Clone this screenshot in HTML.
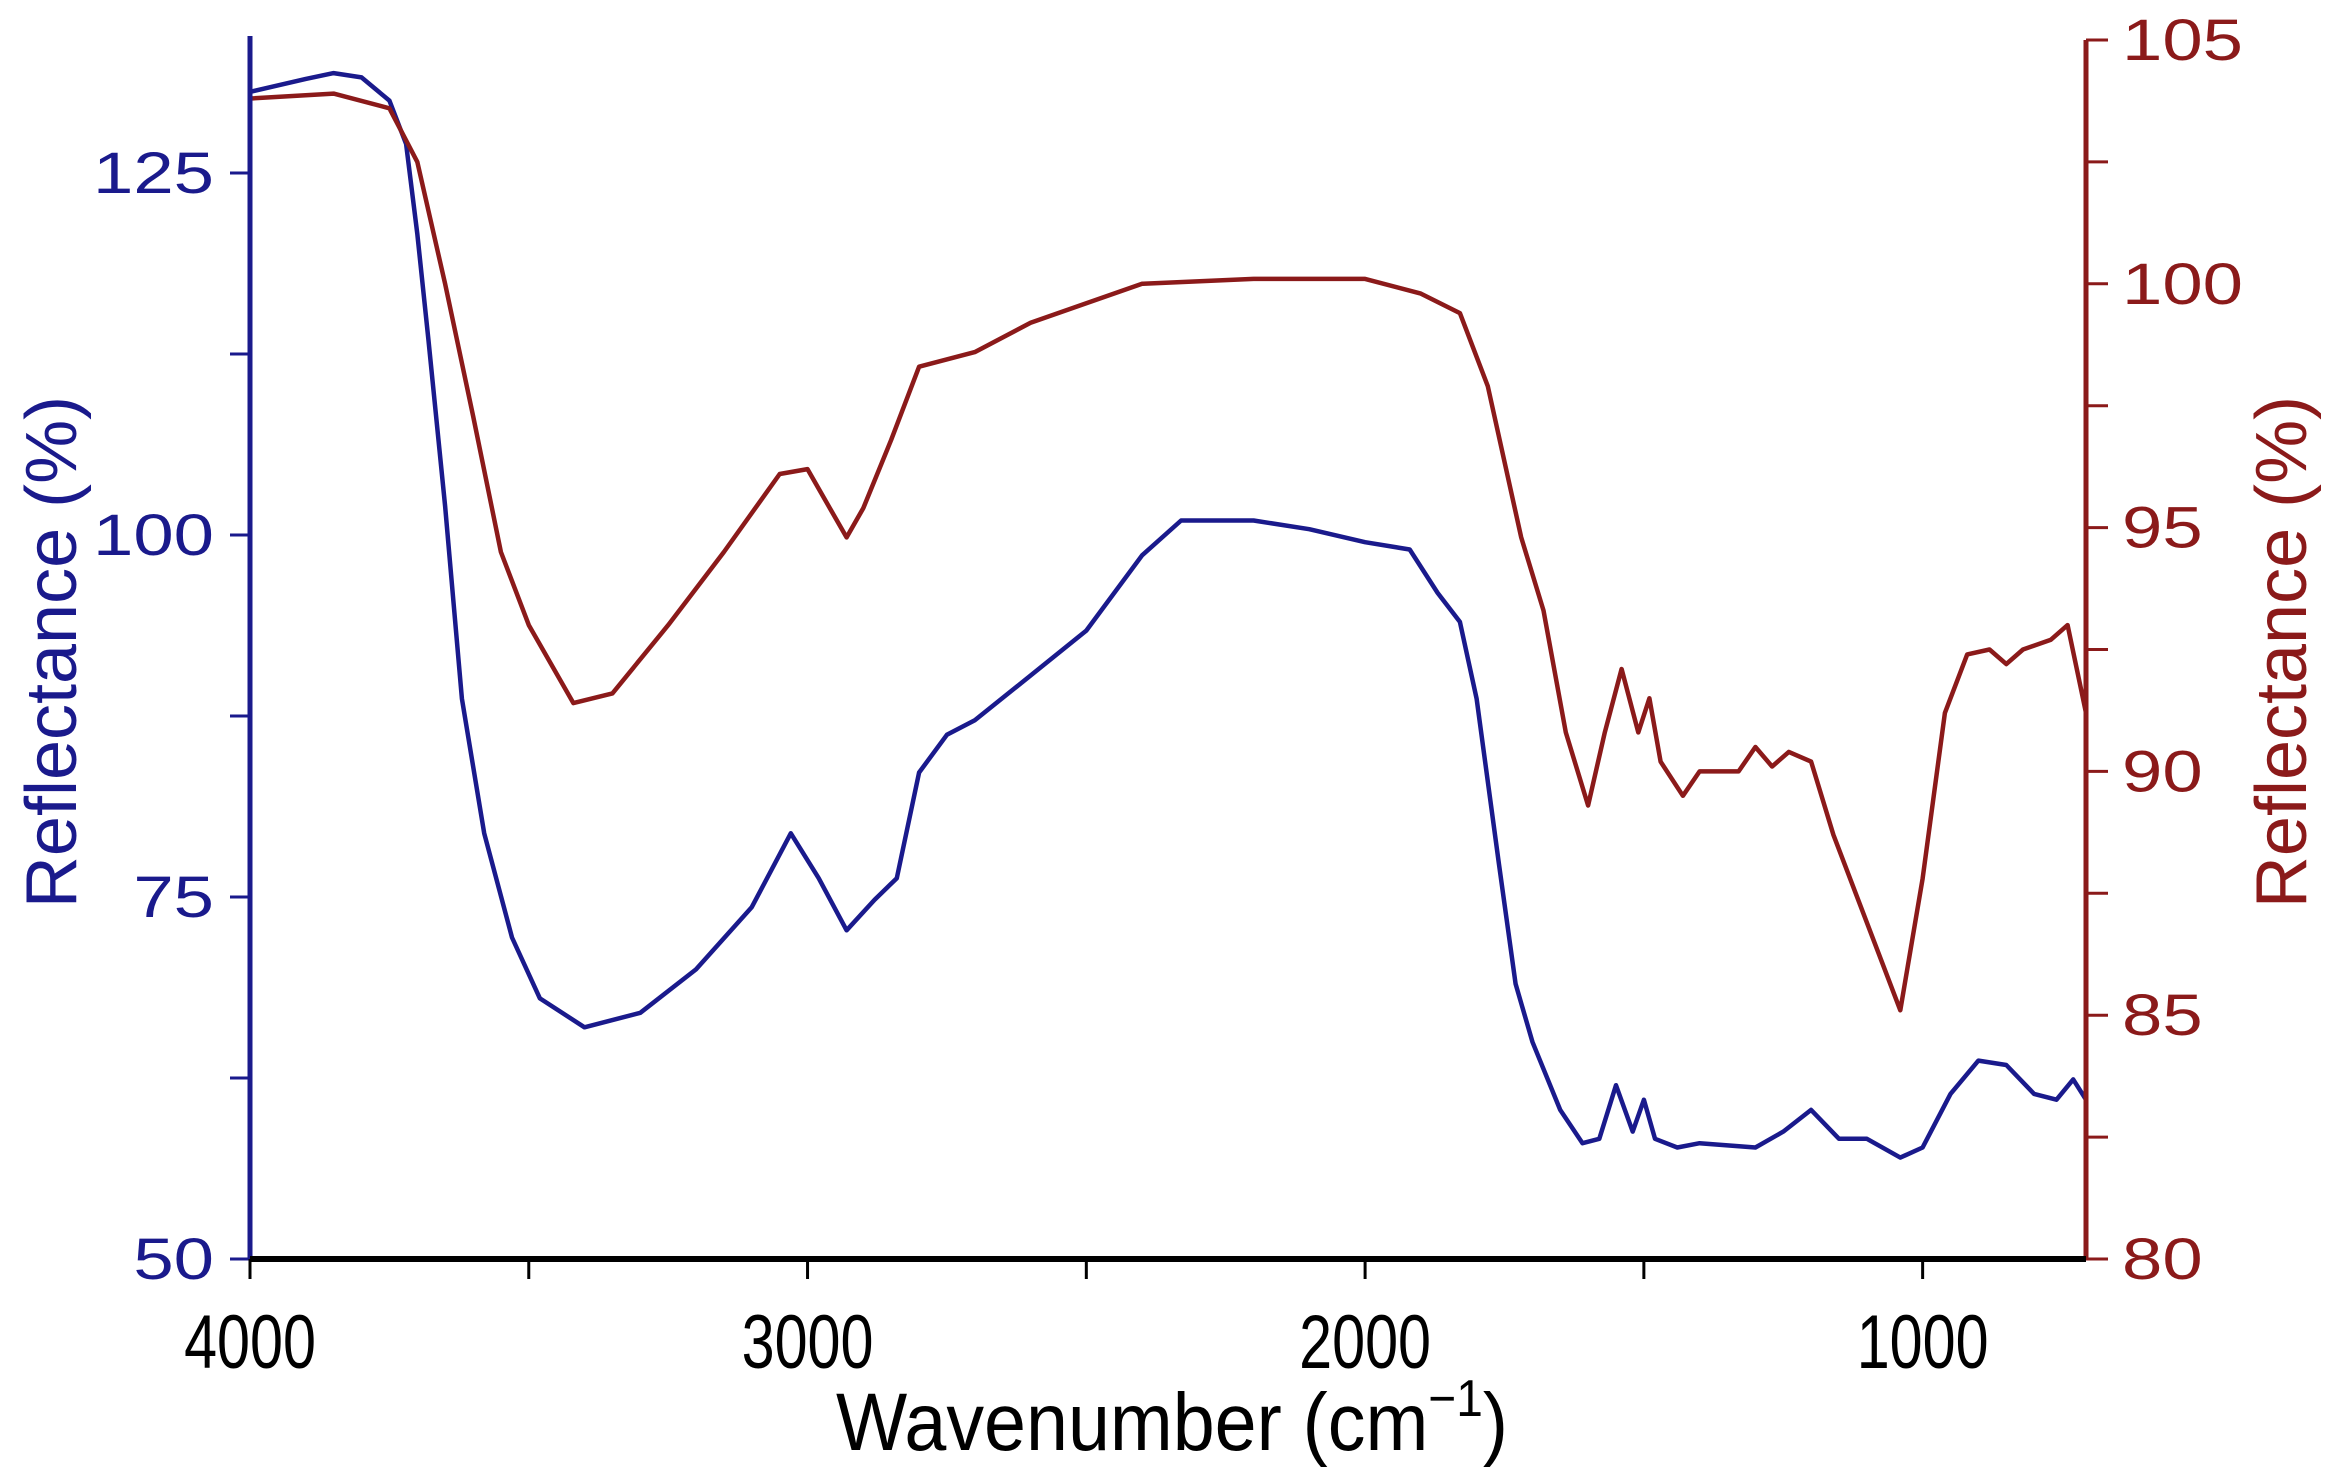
<!DOCTYPE html>
<html><head><meta charset="utf-8"><style>
html,body{margin:0;padding:0;background:#fff;}
svg{display:block;font-family:"Liberation Sans",Arial,sans-serif;}
</style></head><body>
<svg id="chart" width="2337" height="1484" viewBox="0 0 2337 1484" xmlns="http://www.w3.org/2000/svg"></svg>
<script>
const wavenumbers1=[4000,3900,3850,3800,3750,3720,3700,3680,3650,3620,3580,3530,3480,3400,3300,3200,3100,3030,2980,2930,2880,2840,2800,2750,2700,2600,2500,2400,2330,2200,2100,2000,1920,1870,1830,1800,1760,1730,1700,1650,1610,1580,1550,1520,1500,1480,1440,1400,1300,1250,1200,1150,1100,1040,1000,950,900,850,800,760,730,707];
const blueValues=[130.6,131.5,131.9,131.6,130,127,120.8,113.5,102,88.7,79.4,72.2,68,66,67,70,74.3,79.4,76.3,72.7,74.8,76.3,83.6,86.2,87.2,90.3,93.4,98.6,101,101,100.4,99.5,99,96,94,88.7,77.3,69,65,60.3,58,58.3,62,58.8,61,58.3,57.7,58,57.7,58.8,60.3,58.3,58.3,57,57.7,61.4,63.7,63.4,61.4,61,62.4,61];
const wavenumbers2=[4000,3850,3750,3700,3650,3600,3550,3500,3420,3350,3250,3150,3050,3000,2960,2930,2900,2850,2800,2700,2600,2500,2400,2200,2000,1900,1830,1780,1720,1680,1640,1600,1570,1540,1510,1490,1470,1430,1400,1330,1300,1270,1240,1200,1160,1120,1070,1040,1000,960,920,880,850,820,770,740,707];
const redValues=[103.8,103.9,103.6,102.5,100,97.3,94.5,93,91.4,91.6,93,94.5,96.1,96.2,95.4,94.8,95.4,96.8,98.3,98.6,99.2,99.6,100,100.1,100.1,99.8,99.4,97.9,94.8,93.3,90.8,89.3,90.8,92.1,90.8,91.5,90.2,89.5,90,90,90.5,90.1,90.4,90.2,88.7,87.5,86,85.1,87.8,91.2,92.4,92.5,92.2,92.5,92.7,93,91.2];
const xTicks=[4000,3000,2000,1000];
const leftTicks=[50,75,100,125];
const rightTicks=[80,85,90,95,100,105];

const NS="http://www.w3.org/2000/svg";
const svg=document.getElementById('chart');
const X0=250,X1=2086,Y0=40,Y1=1259;
const WMAX=4000,WMIN=707;
const xS=w=>X0+(WMAX-w)/(WMAX-WMIN)*(X1-X0);
const yL=v=>Y1-(v-50)/(125-50)*(Y1-173);
const yR=v=>Y1-(v-80)/(105-80)*(Y1-Y0);
const BLUE="#1a1a8c",RED="#8b1a1a";
function mk(tag,attrs){const e=document.createElementNS(NS,tag);for(const k in attrs)e.setAttribute(k,attrs[k]);svg.appendChild(e);return e;}

let d1=wavenumbers1.map((w,i)=>(i?'L':'M')+xS(w).toFixed(1)+','+yL(blueValues[i]).toFixed(1)).join('');
const p1=mk('path',{d:d1,fill:'none',stroke:BLUE,'stroke-width':4.5,'stroke-linejoin':'round'});


let d2=wavenumbers2.map((w,i)=>(i?'L':'M')+xS(w).toFixed(1)+','+yR(redValues[i]).toFixed(1)).join('');
const p2=mk('path',{d:d2,fill:'none',stroke:RED,'stroke-width':4.5,'stroke-linejoin':'round'});



const ax1=mk('line',{x1:X0,y1:Y0-4,x2:X0,y2:Y1,stroke:BLUE,'stroke-width':5});


const ax2=mk('line',{x1:X1,y1:Y0,x2:X1,y2:Y1,stroke:RED,'stroke-width':5});


const ax3=mk('line',{x1:X0,y1:Y1,x2:X1,y2:Y1,stroke:'#000','stroke-width':6});



for(let v=50;v<=125;v+=12.5){const t=mk('line',{x1:X0-20,y1:yL(v),x2:X0,y2:yL(v),stroke:BLUE,'stroke-width':3});

}
leftTicks.forEach(v=>{const t=mk('text',{transform:'translate(214,'+(yL(v)+20)+') scale(1.25,1)','text-anchor':'end','font-size':58,fill:BLUE});t.textContent=v;

});
for(let v=80;v<=105;v+=2.5){const t=mk('line',{x1:X1,y1:yR(v),x2:X1+22,y2:yR(v),stroke:RED,'stroke-width':3});

}
rightTicks.forEach(v=>{const t=mk('text',{transform:'translate(2122,'+(yR(v)+20)+') scale(1.25,1)','text-anchor':'start','font-size':58,fill:RED});t.textContent=v;

});
for(let w=4000;w>=WMIN;w-=500){const t=mk('line',{x1:xS(w),y1:Y1,x2:xS(w),y2:Y1+20,stroke:'#000','stroke-width':3});

}
xTicks.forEach(w=>{const t=mk('text',{transform:'translate('+xS(w)+',1368) scale(0.78,1)','text-anchor':'middle','font-size':76,fill:'#000'});t.textContent=w;

});

const tx=mk('text',{transform:'translate(1172,1450) scale(0.92,1)','text-anchor':'middle','font-size':82,fill:'#000'});
tx.innerHTML='Wavenumber (cm<tspan dy="-34" font-size="52">&#8722;1</tspan><tspan dy="34">)</tspan>';


const tl=mk('text',{x:0,y:0,'text-anchor':'middle','font-size':72,fill:BLUE,transform:'translate(76,652) rotate(-90)'});
tl.textContent='Reflectance (%)';


const tr=mk('text',{x:0,y:0,'text-anchor':'middle','font-size':72,fill:RED,transform:'translate(2306,652) rotate(-90)'});
tr.textContent='Reflectance (%)';


</script>
</body></html>
